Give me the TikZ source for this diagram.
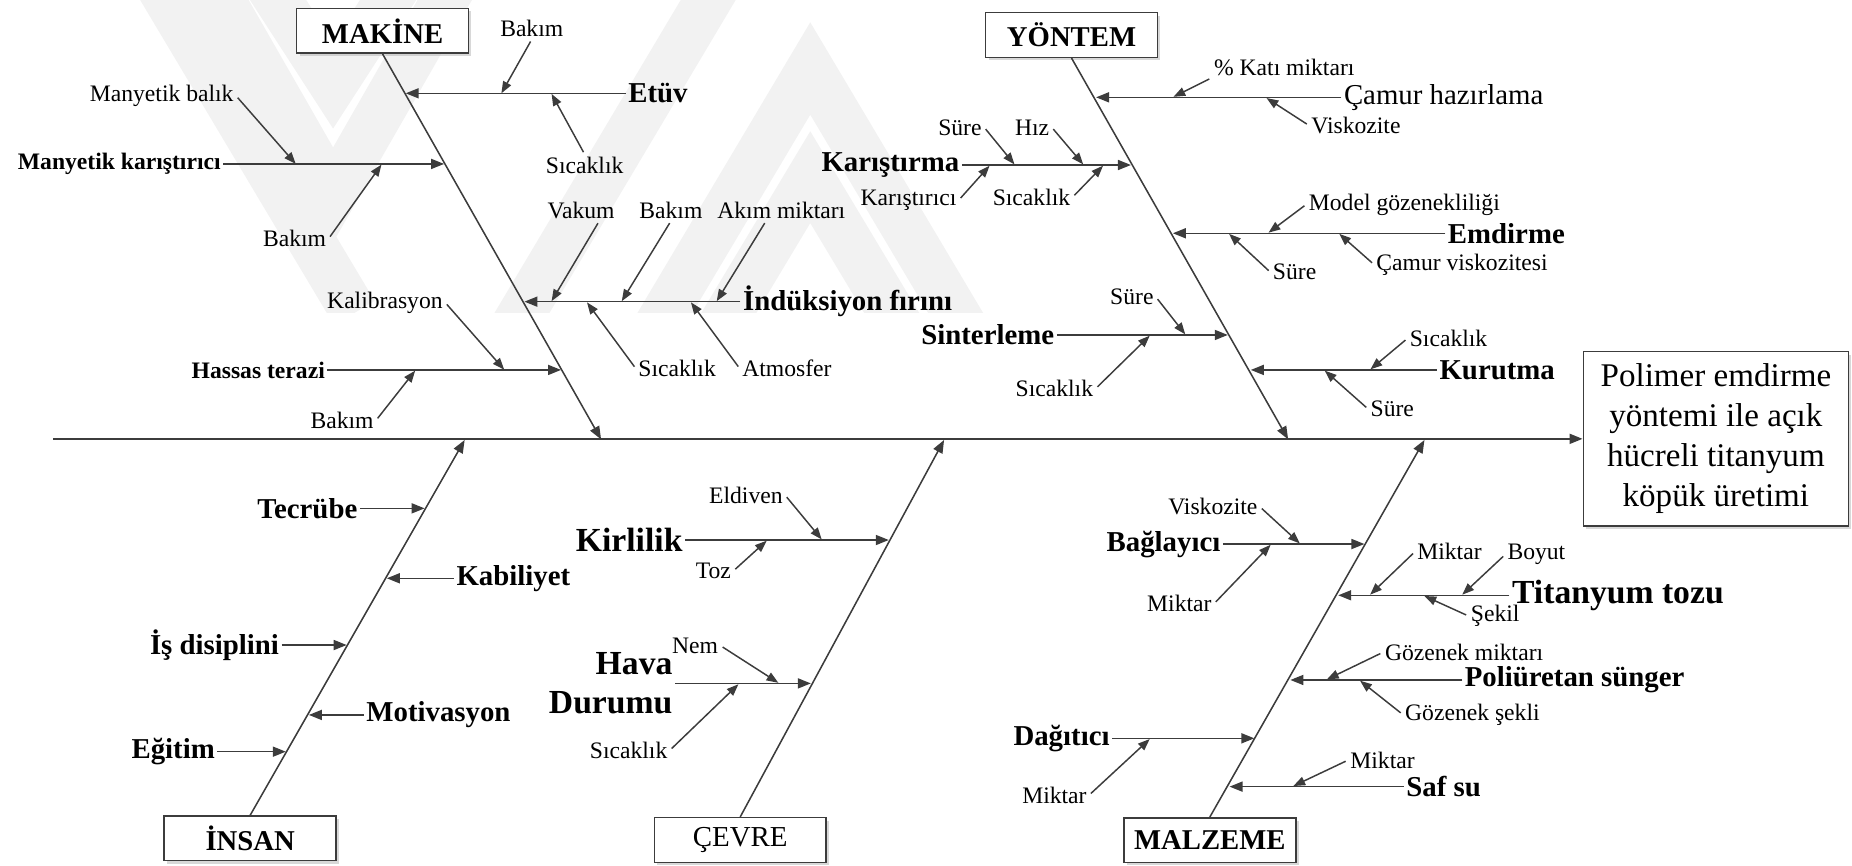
\documentclass[tikz,border=0pt]{standalone}
\usepackage{fontspec}
\setmainfont{Liberation Serif}
\usetikzlibrary{arrows.meta,shadows,calc}
\definecolor{lc}{HTML}{3C3C3C}
\definecolor{wmc}{HTML}{F2F2F2}
\begin{document}
\begin{tikzpicture}[x=1pt,y=-1pt,
  ln/.style={draw=lc, line width=1.3pt},
  arr/.style={ln, -{Triangle[length=11pt,width=8.5pt]}},
  sarr/.style={draw=lc, line width=1.25pt, -{Triangle[length=10pt,width=7.5pt]}, shorten <=2pt},
  sm/.style={font=\fontsize{20}{24}\selectfont, inner sep=2pt},
  bsm/.style={font=\fontsize{20}{24}\selectfont\bfseries, inner sep=2pt},
  mdr/.style={font=\fontsize{24.4}{29}\selectfont, inner sep=2pt},
  bmd/.style={font=\fontsize{24.4}{29}\selectfont\bfseries, inner sep=2pt},
  blg/.style={font=\fontsize{28.5}{32.6}\selectfont\bfseries, inner sep=2pt},
  shd/.style={drop shadow={shadow xshift=2.5pt,shadow yshift=-2.5pt,fill=black!30}},
  cat/.style={draw=lc, line width=1.3pt, fill=white, minimum width=145.5pt, minimum height=37.8pt, inner sep=0pt, shd},
  wm/.style={draw=wmc, line width=40pt, line join=miter}
]
\useasboundingbox (0,0) rectangle (1568,733);

% faint background watermark
\begin{scope}
  \clip (100,0) rectangle (880,265);
  \draw[wm] (222.5,-20) -- (282,72) -- (341.5,-20);
  \draw[wm] (176,-20) -- (282,165) -- (388,-20);
  \draw[wm] (551,285) -- (686,58) -- (821,285);
  \draw[wm] (605,285) -- (686,150) -- (767,285);
  \draw[wm] (430,285) -- (611.5,-20);
  \draw[wm] (130,-20) -- (300,265);
\end{scope}

% category boxes and effect
\node[cat, font=\fontsize{24.3}{29}\selectfont\bfseries] (mak) at (323.9,26.1) {MAKİNE};
\node[cat, font=\fontsize{24.3}{29}\selectfont\bfseries] (yon) at (907.2,29.6) {YÖNTEM};
\node[cat, font=\fontsize{24.3}{29}\selectfont\bfseries] (ins) at (211.8,709.8) {İNSAN};
\node[cat, font=\fontsize{24.5}{29}\selectfont] (cev) at (626.7,711.2) {ÇEVRE};
\node[cat, font=\fontsize{24.3}{29}\selectfont\bfseries] (mal) at (1024.3,711.3) {MALZEME};
\node[draw=lc, line width=1.3pt, fill=white, minimum width=224.5pt, minimum height=147.7pt, align=center, inner sep=0pt,
      font=\fontsize{28}{33.9}\selectfont, shd] (eff) at (1452.75,371.55) {Polimer emdirme\\yöntemi ile açık\\hücreli titanyum\\köpük üretimi};

% spine
\coordinate (sp0) at (45.2,371.55);
\draw[arr, line width=1.5pt] (sp0) -- (eff.west);

% main bones
\coordinate (mtip) at (508.9,372);
\draw[arr] (mak.south) -- (mtip);
\coordinate (ytip) at (1090.6,372);
\draw[arr] (yon.south) -- (ytip);
\coordinate (itip) at (393.4,372.5);
\draw[arr] (ins.north) -- (itip);
\coordinate (ctip) at (799.3,372.5);
\draw[arr] (cev.north) -- (ctip);
\coordinate (ltip) at (1206,372.5);
\draw[arr] (mal.north) -- (ltip);

% ===== MAKINE =====
\node[bmd, anchor=west] (etuv) at (529.8,79) {Etüv};
\coordinate (m1) at (343.5,79);
\draw[arr] (etuv.west) -- (m1);
\node[sm, anchor=base] (mk1) at (450.2,31) {Bakım};
\coordinate (m1a) at (424.5,79);
\draw[sarr] (mk1.south) -- (m1a);
\node[sm, anchor=base] (mk2) at (495,146.7) {Sıcaklık};
\coordinate (m1b) at (467,79.5);
\draw[sarr] (mk2.north) -- (m1b);

\node[bsm, anchor=east] (mkar) at (189,138.8) {Manyetik karıştırıcı};
\coordinate (m2) at (376,138.8);
\draw[arr] (mkar.east) -- (m2);
\node[sm, anchor=base] (mk3) at (136.9,86) {Manyetik balık};
\coordinate (m2a) at (250.4,138.8);
\draw[sarr] (mk3.east) -- (m2a);
\node[sm, anchor=base] (mk4) at (249.4,208.8) {Bakım};
\coordinate (m2b) at (323,139.3);
\draw[sarr] (mk4.east) -- (m2b);

\node[bmd, anchor=west] (ind) at (626.9,255.4) {İndüksiyon fırını};
\coordinate (m3) at (444,255.4);
\draw[arr] (ind.west) -- (m3);
\node[sm, anchor=base] (mk5) at (492,184.8) {Vakum};
\coordinate (m3a) at (467,255);
\draw[sarr] ($(mk5.south)!0.5!(mk5.south east)$) -- (m3a);
\node[sm, anchor=base] (mk6) at (568,184.8) {Bakım};
\coordinate (m3b) at (526.4,255);
\draw[sarr] (mk6.south) -- (m3b);
\node[sm, anchor=base] (mk7) at (661.5,184.8) {Akım miktarı};
\coordinate (m3c) at (606.8,255);
\draw[sarr] ([xshift=-13pt]mk7.south) -- (m3c);
\node[sm, anchor=base] (mk8) at (573.3,318.9) {Sıcaklık};
\coordinate (m3d) at (497,256);
\draw[sarr] (mk8.west) -- (m3d);
\node[sm, anchor=base] (mk9) at (666.2,318.9) {Atmosfer};
\coordinate (m3e) at (585,256);
\draw[sarr] (mk9.west) -- (m3e);

\node[bsm, anchor=east] (hter) at (277.2,313.2) {Hassas terazi};
\coordinate (m4) at (475,313.2);
\draw[arr] (hter.east) -- (m4);
\node[sm, anchor=base] (mk10) at (325.9,261) {Kalibrasyon};
\coordinate (m4a) at (426.9,313);
\draw[sarr] (mk10.east) -- (m4a);
\node[sm, anchor=base] (mk11) at (289.6,362.6) {Bakım};
\coordinate (m4b) at (351.5,313.8);
\draw[sarr] (mk11.east) -- (m4b);

% ===== YONTEM =====
\node[mdr, anchor=west] (camur) at (1135.7,82.4) {Çamur hazırlama};
\coordinate (y1) at (928,82.4);
\draw[arr] (camur.west) -- (y1);
\node[sm, anchor=base] (yk1) at (1087.3,63.5) {\% Katı miktarı};
\coordinate (y1a) at (993.5,82);
\draw[sarr] (yk1.south west) -- (y1a);
\node[sm, anchor=base] (yk2) at (1148,112.9) {Viskozite};
\coordinate (y1b) at (1072.3,83);
\draw[sarr] (yk2.west) -- (y1b);

\node[bmd, anchor=east] (kar) at (814.3,139.7) {Karıştırma};
\coordinate (y2) at (957.5,139.7);
\draw[arr] (kar.east) -- (y2);
\node[sm, anchor=base] (yk3) at (812.7,114.3) {Süre};
\coordinate (y2a) at (858.9,139.2);
\draw[sarr] (yk3.east) -- (y2a);
\node[sm, anchor=base] (yk4) at (873.8,114.3) {Hız};
\coordinate (y2b) at (917.1,139.2);
\draw[sarr] (yk4.east) -- (y2b);
\node[sm, anchor=base] (yk5) at (769.2,173.6) {Karıştırıcı};
\coordinate (y2c) at (837.8,140.3);
\draw[sarr] (yk5.east) -- (y2c);
\node[sm, anchor=base] (yk6) at (873.3,173.6) {Sıcaklık};
\coordinate (y2d) at (933.9,140.3);
\draw[sarr] (yk6.east) -- (y2d);

\node[bmd, anchor=west] (emd) at (1223.7,197.5) {Emdirme};
\coordinate (y3) at (993,197.5);
\draw[arr] (emd.west) -- (y3);
\node[sm, anchor=base] (yk7) at (1189,177.8) {Model gözenekliliği};
\coordinate (y3a) at (1074,197);
\draw[sarr] (yk7.west) -- (y3a);
\node[sm, anchor=base] (yk8) at (1096.1,237) {Süre};
\coordinate (y3b) at (1040.6,198);
\draw[sarr] (yk8.west) -- (y3b);
\node[sm, anchor=base] (yk9) at (1237.8,228.6) {Çamur viskozitesi};
\coordinate (y3c) at (1133.9,198);
\draw[sarr] (yk9.west) -- (y3c);

\node[bmd, anchor=east] (sin) at (894.7,283.6) {Sinterleme};
\coordinate (y4) at (1039.5,283.6);
\draw[arr] (sin.east) -- (y4);
\node[sm, anchor=base] (yk10) at (958.3,258.2) {Süre};
\coordinate (y4a) at (1003.5,283.1);
\draw[sarr] (yk10.east) -- (y4a);
\node[sm, anchor=base] (yk11) at (892.7,335.8) {Sıcaklık};
\coordinate (y4b) at (973.4,284.2);
\draw[sarr] (yk11.east) -- (y4b);

\node[bmd, anchor=west] (kur) at (1216.6,313.2) {Kurutma};
\coordinate (y5) at (1059,313.2);
\draw[arr] (kur.west) -- (y5);
\node[sm, anchor=base] (yk12) at (1226.4,293.5) {Sıcaklık};
\coordinate (y5a) at (1160.3,312.7);
\draw[sarr] (yk12.west) -- (y5a);
\node[sm, anchor=base] (yk13) at (1178.8,352.8) {Süre};
\coordinate (y5b) at (1121.6,313.8);
\draw[sarr] (yk13.west) -- (y5b);

% ===== INSAN =====
\node[bmd, anchor=east] (tec) at (304.7,430.4) {Tecrübe};
\coordinate (i1) at (359.5,430.4);
\draw[arr] (tec.east) -- (i1);
\node[bmd, anchor=west] (kab) at (384.3,489.6) {Kabiliyet};
\coordinate (i2) at (327.5,489.6);
\draw[arr] (kab.west) -- (i2);
\node[bmd, anchor=east] (isd) at (238.4,546.1) {İş disiplini};
\coordinate (i3) at (293.5,546.1);
\draw[arr] (isd.east) -- (i3);
\node[bmd, anchor=west] (mot) at (308,605.3) {Motivasyon};
\coordinate (i4) at (261.5,605.3);
\draw[arr] (mot.west) -- (i4);
\node[bmd, anchor=east] (egi) at (184.1,636.4) {Eğitim};
\coordinate (i5) at (242,636.4);
\draw[arr] (egi.east) -- (i5);

% ===== CEVRE =====
\node[blg, anchor=east] (kir) at (580,457.2) {Kirlilik};
\coordinate (c1) at (752.5,457.2);
\draw[arr] (kir.east) -- (c1);
\node[sm, anchor=base] (ck1) at (631.5,426.2) {Eldiven};
\coordinate (c1a) at (695.7,456.7);
\draw[sarr] (ck1.east) -- (c1a);
\node[sm, anchor=base] (ck2) at (604,489.7) {Toz};
\coordinate (c1b) at (649.1,457.8);
\draw[sarr] (ck2.east) -- (c1b);
\node[blg, anchor=east, align=right] (hava) at (571.5,578.6) {Hava\\Durumu};
\coordinate (c2) at (686.5,578.6);
\draw[arr] (hava.east) -- (c2);
\node[sm, anchor=base] (ck3) at (588.5,553.2) {Nem};
\coordinate (c2a) at (659,578.1);
\draw[sarr] (ck3.east) -- (c2a);
\node[sm, anchor=base] (ck4) at (532.2,642) {Sıcaklık};
\coordinate (c2b) at (625.2,579.3);
\draw[sarr] (ck4.east) -- (c2b);

% ===== MALZEME =====
\node[bmd, anchor=east] (bag) at (1035.4,460.6) {Bağlayıcı};
\coordinate (l1) at (1155.2,460.6);
\draw[arr] (bag.east) -- (l1);
\node[sm, anchor=base] (lk1) at (1026.9,436) {Viskozite};
\coordinate (l1a) at (1100.5,460.1);
\draw[sarr] (lk1.east) -- (l1a);
\node[sm, anchor=base] (lk2) at (998.5,517.9) {Miktar};
\coordinate (l1b) at (1075.8,461.2);
\draw[sarr] (lk2.east) -- (l1b);

\node[blg, anchor=west] (tit) at (1278,504) {Titanyum tozu};
\coordinate (l2) at (1133,504);
\draw[arr] (tit.west) -- (l2);
\node[sm, anchor=base] (lk3) at (1227.2,474.1) {Miktar};
\coordinate (l2a) at (1160,503.5);
\draw[sarr] (lk3.west) -- (l2a);
\node[sm, anchor=base] (lk4) at (1300.8,474.1) {Boyut};
\coordinate (l2b) at (1238,503.5);
\draw[sarr] (lk4.west) -- (l2b);
\node[sm, anchor=base] (lk5) at (1265.9,526.3) {Şekil};
\coordinate (l2c) at (1206,504.6);
\draw[sarr] (lk5.west) -- (l2c);

\node[bmd, anchor=west] (pol) at (1238,575.7) {Poliüretan sünger};
\coordinate (l3) at (1092.5,575.7);
\draw[arr] (pol.west) -- (l3);
\node[sm, anchor=base] (lk6) at (1239.6,559.3) {Gözenek miktarı};
\coordinate (l3a) at (1123.4,575.2);
\draw[sarr] (lk6.west) -- (l3a);
\node[sm, anchor=base] (lk7) at (1246.6,609.6) {Gözenek şekli};
\coordinate (l3b) at (1151.5,576.3);
\draw[sarr] (lk7.west) -- (l3b);

\node[bmd, anchor=east] (dag) at (941.6,625.1) {Dağıtıcı};
\coordinate (l4) at (1062,625.1);
\draw[arr] (dag.east) -- (l4);
\node[sm, anchor=base] (lk8) at (892.7,680) {Miktar};
\coordinate (l4a) at (973.4,625.7);
\draw[sarr] (lk8.east) -- (l4a);

\node[bmd, anchor=west] (saf) at (1188.5,666) {Saf su};
\coordinate (l5) at (1041,666);
\draw[arr] (saf.west) -- (l5);
\node[sm, anchor=base] (lk9) at (1170.5,650.5) {Miktar};
\coordinate (l5a) at (1095,665.5);
\draw[sarr] (lk9.west) -- (l5a);
\end{tikzpicture}
\end{document}
